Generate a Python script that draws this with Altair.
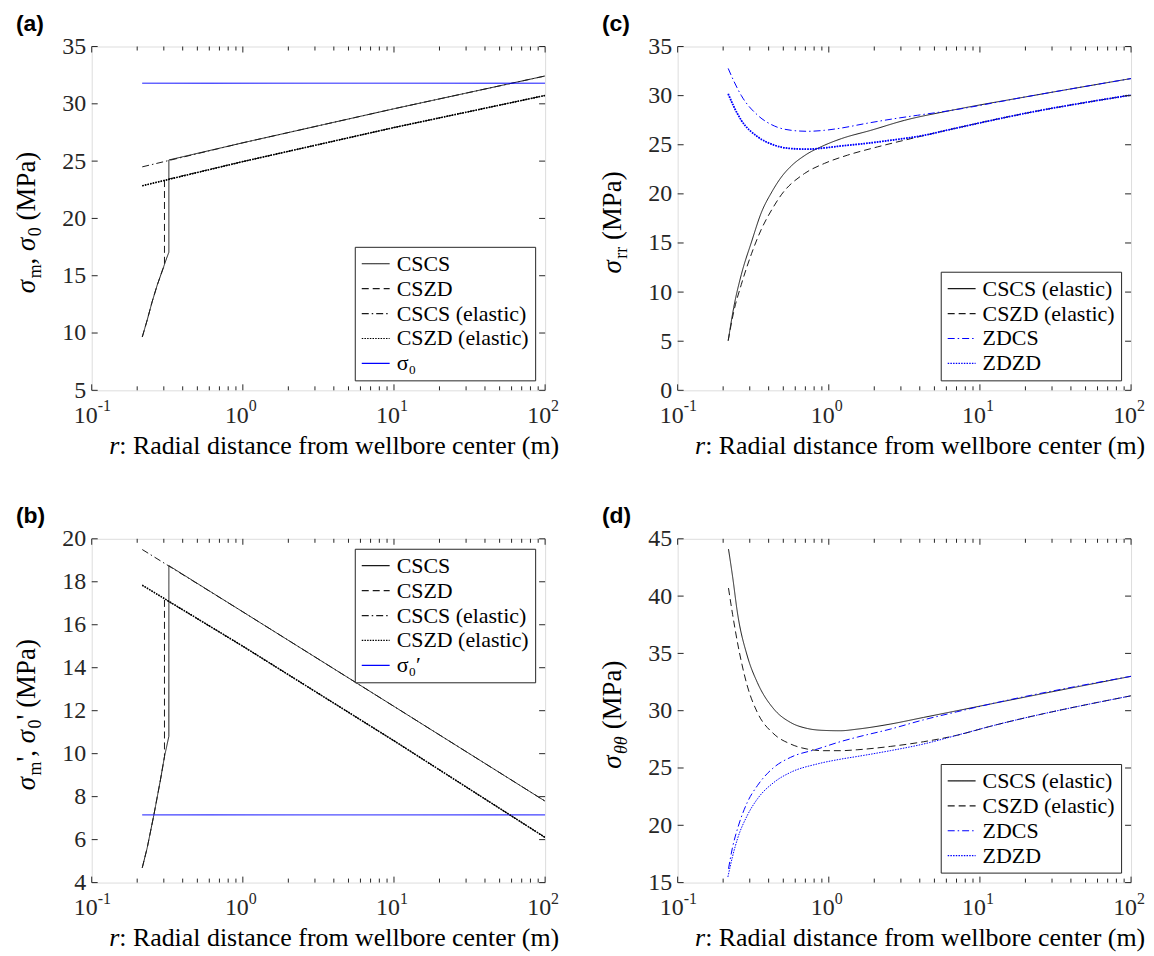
import altair as alt
import pandas as pd

# ---------------- shared axis values ----------------
X_MAJOR = [0.1, 1, 10, 100]
X_EXP = ["-1", "0", "1", "2"]
X_MINOR = [0.2, 0.3, 0.4, 0.5, 0.6, 0.7, 0.8, 0.9, 2, 3, 4, 5, 6, 7, 8, 9,
           20, 30, 40, 50, 60, 70, 80, 90]

# ---------------- panel (a) ----------------
A_CSCS_R = [0.216, 0.233, 0.251, 0.271, 0.296, 0.312, 0.324, 0.324, 1.0, 10.0, 100.0]
A_CSCS_V = [9.65, 11.14, 12.72, 14.16, 15.6, 16.47, 17.05, 25.1, 26.6, 29.57, 32.43]
A_CSZD_R = [0.216, 0.233, 0.251, 0.271, 0.296, 0.303, 0.303, 1.0, 10.0, 100.0]
A_CSZD_V = [9.65, 11.14, 12.72, 14.16, 15.6, 15.85, 23.35, 24.96, 27.93, 30.73]
A_CSCSE_R = [0.216, 1.0, 10.0, 100.0]
A_CSCSE_V = [24.5, 26.6, 29.57, 32.43]
A_CSZDE_R = [0.216, 1.0, 10.0, 100.0]
A_CSZDE_V = [22.85, 24.96, 27.93, 30.73]
A_S0_R = [0.216, 100.0]
A_S0_V = [31.8, 31.8]

# ---------------- panel (b) ----------------
B_CSCS_R = [0.216, 0.233, 0.2575, 0.285, 0.303, 0.324, 0.324, 1.0, 10.0, 100.0]
B_CSCS_V = [4.69, 5.62, 7.13, 8.78, 9.86, 10.81, 18.75, 16.6, 12.2, 7.79]
B_CSZD_R = [0.216, 0.233, 0.2575, 0.285, 0.303, 0.303, 1.0, 10.0, 100.0]
B_CSZD_V = [4.69, 5.62, 7.13, 8.78, 9.86, 17.2, 15.0, 10.6, 6.1]
B_CSCSE_R = [0.216, 1.0, 10.0, 100.0]
B_CSCSE_V = [19.5, 16.6, 12.2, 7.79]
B_CSZDE_R = [0.216, 1.0, 10.0, 100.0]
B_CSZDE_V = [17.84, 15.0, 10.6, 6.1]
B_S0_R = [0.216, 100.0]
B_S0_V = [7.15, 7.15]

# ---------------- panel (c) ----------------
C_CSCS_R = [0.216, 0.235, 0.264, 0.308, 0.358, 0.42, 0.485, 0.57, 0.692, 0.936, 1.21, 1.90, 3.16, 6.41, 20.0, 100.0]
C_CSCS_V = [5.06, 8.43, 11.8, 15.1, 18.1, 20.2, 21.7, 22.9, 23.9, 24.95, 25.62, 26.47, 27.48, 28.49, 29.87, 31.74]
C_CSZD_R = [0.216, 0.235, 0.264, 0.308, 0.358, 0.42, 0.485, 0.692, 0.936, 1.33, 2.10, 3.49, 6.41, 20.0, 100.0]
C_CSZD_V = [5.06, 8.0, 10.79, 13.9, 16.4, 18.4, 19.9, 22.08, 23.1, 23.94, 24.78, 25.62, 26.57, 28.2, 30.06]
C_ZDCS_R = [0.216, 0.235, 0.264, 0.340, 0.438, 0.565, 0.727, 0.936, 1.21, 1.72, 2.58, 3.86, 6.41, 20.0, 100.0]
C_ZDCS_V = [32.77, 31.5, 30.0, 27.98, 26.9, 26.47, 26.37, 26.47, 26.7, 27.14, 27.6, 28.0, 28.49, 29.87, 31.74]
C_ZDZD_R = [0.216, 0.235, 0.264, 0.340, 0.438, 0.565, 0.727, 0.936, 1.21, 1.72, 2.58, 4.27, 6.41, 20.0, 100.0]
C_ZDZD_V = [30.18, 28.9, 27.48, 25.79, 24.95, 24.61, 24.55, 24.68, 24.88, 25.12, 25.46, 25.96, 26.57, 28.2, 30.06]

# ---------------- panel (d) ----------------
D_CSCS_R = [0.217, 0.231, 0.249, 0.289, 0.337, 0.434, 0.559, 0.720, 0.927, 1.19, 1.54, 2.55, 4.23, 7.02, 11.6, 100.0]
D_CSCS_V = [44.1, 41.7, 38.5, 34.77, 32.45, 30.13, 28.97, 28.45, 28.28, 28.25, 28.39, 28.83, 29.41, 29.99, 30.57, 33.0]
D_CSZD_R = [0.217, 0.231, 0.249, 0.289, 0.337, 0.434, 0.559, 0.720, 0.927, 1.19, 1.54, 2.55, 4.23, 7.02, 11.6, 100.0]
D_CSZD_V = [40.7, 38.4, 35.93, 32.16, 29.84, 27.96, 27.09, 26.65, 26.51, 26.51, 26.59, 26.88, 27.29, 27.85, 28.62, 31.3]
D_ZDCS_R = [0.217, 0.231, 0.249, 0.289, 0.337, 0.434, 0.559, 0.838, 1.21, 1.55, 2.55, 4.23, 7.02, 11.6, 100.0]
D_ZDCS_V = [16.2, 18.1, 19.7, 22.0, 23.46, 25.06, 25.93, 26.65, 27.32, 27.7, 28.39, 29.2, 29.9, 30.57, 33.0]
D_ZDZD_R = [0.215, 0.231, 0.249, 0.289, 0.337, 0.434, 0.559, 0.838, 1.21, 1.55, 2.55, 4.23, 7.02, 11.6, 100.0]
D_ZDZD_V = [15.49, 17.3, 18.83, 20.86, 22.3, 23.75, 24.62, 25.35, 25.78, 26.01, 26.51, 27.09, 27.85, 28.62, 31.3]

# ---------------- styling ----------------
W, H = 455, 345
FONT = "Liberation Serif"
SANS = "Liberation Sans"
AX = "#262626"
LK = "#1a1a1a"
BLUE = "#0000ff"
SOLID = [1, 0]
DASH = [7, 4]
DASHDOT = [7, 3, 1.5, 3]
DOT = [1.5, 1.2]
FS_YTITLE = 27
FS_XTITLE = 26
FS_SUB = 18
FS_TICK = 24
FS_LEG = 22

REG = {' ': 250, '(': 333, ')': 333, ',': 250, "'": 180, ':': 278, '-': 333,
       'M': 889, 'P': 556, 'R': 667, 'a': 444, 'b': 500, 'c': 444, 'd': 500,
       'e': 444, 'f': 333, 'i': 278, 'l': 278, 'm': 778, 'n': 500, 'o': 500,
       'r': 333, 's': 389, 't': 278, 'w': 722, 'σ': 550, 'θ': 500}
ITAL = {'r': 389, 'σ': 550, 'θ': 500}


def tw(s, italic=False):
    tot = 0
    for ch in s:
        if italic and ch in ITAL:
            tot += ITAL[ch]
        else:
            tot += REG.get(ch, 500)
    return tot / 1000.0


def one(text):
    return pd.DataFrame({"t": [text]})


def ytitle_layers(pieces):
    sizes = []
    for text, kind in pieces:
        fs = FS_SUB if kind.startswith("sub") else FS_YTITLE
        sizes.append(tw(text, "ital" in kind) * fs)
    total = sum(sizes)
    start = H / 2 + total / 2 + 4
    layers = []
    cum = 0
    for (text, kind), w in zip(pieces, sizes):
        fs = FS_SUB if kind.startswith("sub") else FS_YTITLE
        lead = len(text) - len(text.lstrip(" "))
        lead_w = tw(" " * lead) * fs
        xb = -57 + (6 if kind.startswith("sub") else 0)
        if text.strip():
            layers.append(
                alt.Chart(one(text.strip())).mark_text(
                    angle=270, align="left", baseline="alphabetic", font=FONT,
                    fontSize=fs, fontStyle="italic" if "ital" in kind else "normal",
                    color="black",
                ).encode(text="t:N", x=alt.value(xb), y=alt.value(start - cum - lead_w))
            )
        cum += w
    return layers


def xtitle_layers():
    pieces = [("r", True), (":", False), ("Radial distance from wellbore center (m)", False)]
    gaps = [0, 0, tw(" ") * FS_XTITLE]
    sizes = [tw(t, it) * FS_XTITLE for t, it in pieces]
    total = sum(sizes) + sum(gaps)
    x0 = W / 2 - total / 2 + 16
    layers = []
    cum = 0
    for (t, it), w, g in zip(pieces, sizes, gaps):
        cum += g
        layers.append(
            alt.Chart(one(t)).mark_text(
                align="left", baseline="alphabetic", font=FONT, fontSize=FS_XTITLE,
                fontStyle="italic" if it else "normal", color="black",
            ).encode(text="t:N", x=alt.value(x0 + cum), y=alt.value(H + 64))
        )
        cum += w
    return layers


def make_panel(series, names, colors, dashes, heavy, ydom, yticks, ypieces, tag, lorient, interp):
    rows = []
    for name, (rs, vs) in zip(names, series):
        for i, (r, v) in enumerate(zip(rs, vs)):
            rows.append({"s": name, "r": r, "v": v, "i": i})
    df = pd.DataFrame(rows)

    xs = alt.Scale(type="log", domain=[0.1, 100], nice=False)
    ys = alt.Scale(domain=ydom, nice=False, zero=False)
    xax = alt.Axis(labels=False, ticks=False, domain=False, grid=False, title=None)
    yax = alt.Axis(values=yticks, ticks=False, domain=False, grid=False, title=None,
                   labelFont=FONT, labelFontSize=FS_TICK, labelColor=AX, labelPadding=6)
    X = alt.X("r:Q", scale=xs, axis=xax)
    Y = alt.Y("v:Q", scale=ys, axis=yax)

    leg = alt.Legend(title=None, orient=lorient, offset=10, symbolType="stroke",
                     symbolSize=784, symbolStrokeWidth=1.2, labelFont=FONT, labelFontSize=FS_LEG,
                     labelColor="black", labelLimit=400, labelOffset=6, padding=6, rowPadding=3,
                     clipHeight=22, strokeColor=AX, fillColor="white", cornerRadius=0)

    # ranges padded with a copy of the last entry so that no value can wrap round
    col_r = colors + [colors[-1]]
    dash_r = dashes + [dashes[-1]]

    lines = alt.Chart(df).mark_line(clip=True, interpolate=interp, strokeWidth=1).encode(
        x=X, y=Y,
        color=alt.Color("s:N", scale=alt.Scale(domain=names, range=col_r), legend=leg),
        strokeDash=alt.StrokeDash("s:N", scale=alt.Scale(domain=names, range=dash_r), legend=leg),
        order="i:Q",
    )

    # heavier redraw of the dense dotted series (no legend of its own)
    extra = []
    for name, width in heavy:
        k = names.index(name)
        extra.append(
            alt.Chart(df).transform_filter(alt.datum.s == name).mark_line(
                clip=True, interpolate=interp, strokeWidth=width, color=colors[k],
                strokeDash=dashes[k],
            ).encode(x=X, y=Y, order="i:Q")
        )

    xmaj = pd.DataFrame({"r": X_MAJOR, "b": ["10"] * 4, "e": X_EXP})
    xmin = pd.DataFrame({"r": X_MINOR})
    ytk = pd.DataFrame({"v": yticks})

    def rule(d, **enc):
        return alt.Chart(d).mark_rule(color=AX, strokeWidth=1).encode(**enc)

    ticks = [
        rule(xmaj, x=X, y=alt.value(H), y2=alt.value(H - 6)),
        rule(xmaj, x=X, y=alt.value(0), y2=alt.value(6)),
        rule(xmin, x=X, y=alt.value(H), y2=alt.value(H - 4)),
        rule(xmin, x=X, y=alt.value(0), y2=alt.value(4)),
        rule(ytk, y=Y, x=alt.value(0), x2=alt.value(6)),
        rule(ytk, y=Y, x=alt.value(W), x2=alt.value(W - 6)),
    ]

    xlab = [
        alt.Chart(xmaj).mark_text(align="right", baseline="alphabetic", dx=6, font=FONT,
                                  fontSize=FS_TICK, color=AX).encode(x=X, y=alt.value(H + 33), text="b:N"),
        alt.Chart(xmaj).mark_text(align="left", baseline="alphabetic", dx=6, font=FONT,
                                  fontSize=16, color=AX).encode(x=X, y=alt.value(H + 21), text="e:N"),
    ]

    tag_layer = alt.Chart(one(tag)).mark_text(
        align="left", baseline="top", font=SANS, fontSize=23,
        fontWeight="bold", color="black",
    ).encode(text="t:N", x=alt.value(-76), y=alt.value(-34))

    layers = [lines] + extra + ticks + xlab + ytitle_layers(ypieces) + xtitle_layers() + [tag_layer]
    return alt.layer(*layers).properties(width=W, height=H)


AB_NAMES = ["CSCS", "CSZD", "CSCS (elastic)", "CSZD (elastic)"]
pa = make_panel(
    [(A_CSCS_R, A_CSCS_V), (A_CSZD_R, A_CSZD_V), (A_CSCSE_R, A_CSCSE_V),
     (A_CSZDE_R, A_CSZDE_V), (A_S0_R, A_S0_V)],
    AB_NAMES + ["σ₀"], [LK, LK, LK, "#000000", BLUE], [SOLID, DASH, DASHDOT, DOT, SOLID],
    [("CSZD (elastic)", 1.6)],
    [5, 35], [5, 10, 15, 20, 25, 30, 35],
    [("σ", "ital"), ("m", "sub"), (",", "main"), (" σ", "ital"), ("0", "sub"), (" (MPa)", "main")],
    "(a)", "bottom-right", "linear")

pb = make_panel(
    [(B_CSCS_R, B_CSCS_V), (B_CSZD_R, B_CSZD_V), (B_CSCSE_R, B_CSCSE_V),
     (B_CSZDE_R, B_CSZDE_V), (B_S0_R, B_S0_V)],
    AB_NAMES + ["σ₀′"], [LK, LK, LK, "#000000", BLUE], [SOLID, DASH, DASHDOT, DOT, SOLID],
    [("CSZD (elastic)", 1.6)],
    [4, 20], [4, 6, 8, 10, 12, 14, 16, 18, 20],
    [("σ", "ital"), ("m", "sub"), ("'", "main"), (",", "main"), (" σ", "ital"), ("0", "sub"),
     ("'", "main"), (" (MPa)", "main")],
    "(b)", "top-right", "linear")

CD_NAMES = ["CSCS (elastic)", "CSZD (elastic)", "ZDCS", "ZDZD"]
pc = make_panel(
    [(C_CSCS_R, C_CSCS_V), (C_CSZD_R, C_CSZD_V), (C_ZDCS_R, C_ZDCS_V), (C_ZDZD_R, C_ZDZD_V)],
    CD_NAMES, [LK, LK, BLUE, BLUE], [SOLID, DASH, DASHDOT, DOT], [("ZDZD", 1.8)],
    [0, 35], [0, 5, 10, 15, 20, 25, 30, 35],
    [("σ", "ital"), ("rr", "sub"), (" (MPa)", "main")],
    "(c)", "bottom-right", "monotone")

pd_ = make_panel(
    [(D_CSCS_R, D_CSCS_V), (D_CSZD_R, D_CSZD_V), (D_ZDCS_R, D_ZDCS_V), (D_ZDZD_R, D_ZDZD_V)],
    CD_NAMES, [LK, LK, BLUE, BLUE], [SOLID, DASH, DASHDOT, DOT], [],
    [15, 45], [15, 20, 25, 30, 35, 40, 45],
    [("σ", "ital"), ("θθ", "subital"), (" (MPa)", "main")],
    "(d)", "bottom-right", "monotone")

chart = alt.concat(pa, pc, pb, pd_, columns=2).properties(
    spacing={"row": 149, "column": 133},
    bounds="flush",
    padding={"left": 4, "top": 2, "right": 0, "bottom": 0},
).resolve_scale(color="independent", strokeDash="independent",
                x="independent", y="independent").configure_view(
    stroke=AX, strokeWidth=1
).configure(font=FONT)

chart.save("out.html", embed_options={"renderer": "svg", "actions": False})
